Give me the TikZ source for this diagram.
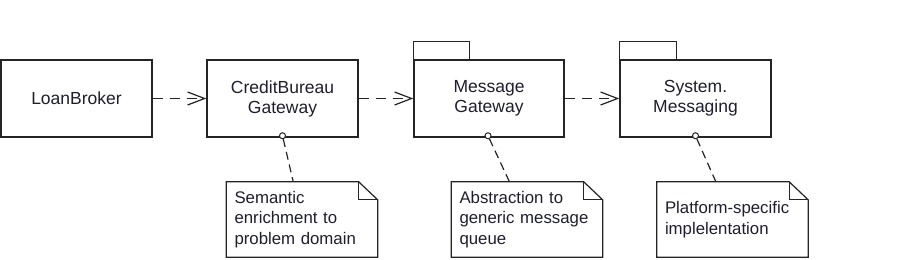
\documentclass[tikz,border=0pt]{standalone}
\usepackage{fontspec}
\setmainfont{Liberation Sans}
\usetikzlibrary{arrows.meta,calc}
\definecolor{ink}{RGB}{30,30,44}
\definecolor{edge}{RGB}{36,36,36}
\newcommand\notefold[1]{%
  \draw[noteline] (#1.north west) -- ($(#1.north east)+(-19,0)$) -- ($(#1.north east)+(0,18)$) -- (#1.south east) -- (#1.south west) -- cycle;
  \draw[noteline] ($(#1.north east)+(-19,0)$) -- ($(#1.north east)+(-19,18)$) -- ($(#1.north east)+(0,18)$);}
\begin{document}
\begin{tikzpicture}[x=1bp,y=-1bp,
  every node/.style={text=ink},
  box/.style={draw=edge, line width=1.5bp, minimum width=151bp, minimum height=77bp, align=center, inner sep=0pt, font=\fontsize{17.5bp}{20bp}\selectfont},
  notebox/.style={minimum width=151bp, minimum height=75bp, text width=135bp, align=left, inner xsep=8bp, inner ysep=0pt, font=\fontsize{16.8bp}{20.5bp}\selectfont},
  noteline/.style={draw=edge, line width=1.2bp, line join=miter},
  tabline/.style={draw=edge, line width=1.5bp},
  dep/.style={draw=edge, line width=1.2bp, dash pattern=on 10bp off 7bp, -{Straight Barb[length=17bp,width=13bp,line width=1.2bp]}},
  anchorline/.style={draw=edge, line width=1.2bp, dash pattern=on 8bp off 5bp},
  lolli/.style={circle, draw=edge, line width=1bp, fill=white, minimum size=6bp, inner sep=0pt},
]
\useasboundingbox (0,0) rectangle (902,259);

% main boxes
\node[box] (lb) at (76.5,98.5) {LoanBroker};
\node[box] (cb) at (282.5,98.5) {CreditBureau\\Gateway};
\node[box, minimum width=150bp] (mg) at (489,98.5) {Message\\Gateway};
\node[box] (sm) at (695.5,98.5) {System.\\Messaging};

% package tabs
\draw[tabline] (mg.north west) rectangle ++(56,-18);
\draw[tabline] (sm.north west) rectangle ++(57,-18);

% dependencies
\draw[dep] (lb.east) -- (cb.west);
\draw[dep] (cb.east) -- (mg.west);
\draw[dep] (mg.east) -- (sm.west);

% notes
\node[notebox] (n1) at (302,219.5) {Semantic\\enrichment to\\problem domain};
\node[notebox] (n2) at (527,219.5) {Abstraction to\\generic message\\queue};
\node[notebox] (n3) at (732.5,219.5) {Platform-specific\\implelentation};
\notefold{n1}
\notefold{n2}
\notefold{n3}

% lollipops and note anchors
\node[lolli] (c1) at ($(cb.south)+(0,-2)$) {};
\node[lolli] (c2) at ($(mg.south)+(-1,-2)$) {};
\node[lolli] (c3) at ($(sm.south)+(0,-2)$) {};
\draw[anchorline] (c1) -- (n1);
\draw[anchorline] (c2) -- (n2);
\draw[anchorline] (c3) -- (n3);
\end{tikzpicture}
\end{document}
